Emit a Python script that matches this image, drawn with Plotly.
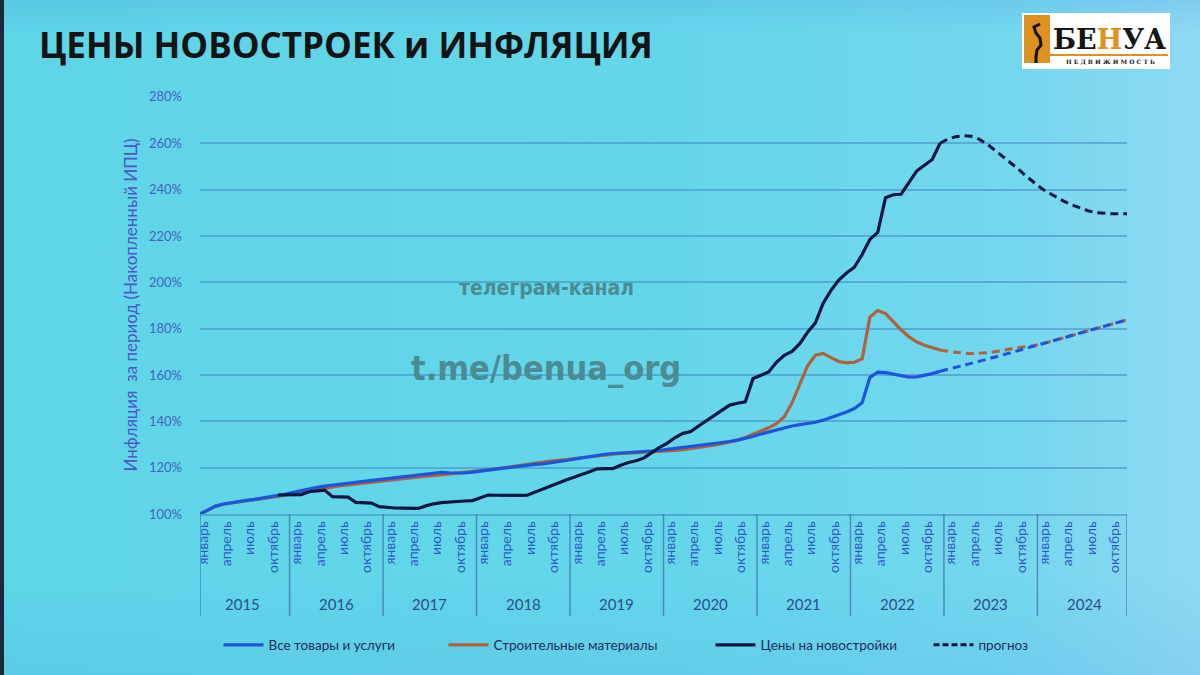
import base64
import plotly.graph_objects as go

# ---------------- data ----------------
years = [2015, 2016, 2017, 2018, 2019, 2020, 2021, 2022, 2023, 2024]
month_labels = ["январь", "апрель", "июль", "октябрь"]
month_offsets = [0, 3, 6, 9]

# Все товары и услуги (monthly, Jan 2015 .. Dec 2022)
cpi = [100, 101.8, 103.4, 104.3, 104.9, 105.4, 105.9, 106.3, 106.8, 107.3, 107.9, 108.6,
       109.4, 110.2, 110.9, 111.5, 112.0, 112.5, 112.9, 113.3, 113.7, 114.1, 114.5, 115.0,
       115.4, 115.8, 116.1, 116.4, 116.8, 117.3, 117.8, 118.0, 117.8, 117.6, 117.7, 118.1,
       118.5, 118.9, 119.3, 119.8, 120.3, 120.8, 121.2, 121.4, 121.6, 122.0, 122.5, 123.1,
       123.7, 124.3, 124.9, 125.4, 125.8, 126.1, 126.3, 126.4, 126.5, 126.7, 127.0, 127.4,
       127.9, 128.3, 128.7, 129.1, 129.5, 130.0, 130.4, 130.8, 131.3, 131.9, 132.6, 133.5,
       134.5, 135.4, 136.3, 137.2, 138.0, 138.6, 139.1, 139.6, 140.5, 141.6, 142.8, 144.0,
       145.5, 148.0, 159.0, 161.2, 161.0, 160.3, 159.6, 159.1, 159.2, 159.8, 160.6, 161.6]

# Строительные материалы
materials = [100, 101.8, 103.3, 104.2, 104.8, 105.3, 105.8, 106.2, 106.6, 107.1, 107.6, 108.2,
             108.8, 109.4, 110.0, 110.6, 111.2, 111.7, 112.2, 112.6, 113.0, 113.4, 113.8, 114.2,
             114.6, 115.0, 115.3, 115.6, 116.0, 116.3, 116.6, 116.9, 117.2, 117.5, 117.9, 118.3,
             118.7, 119.1, 119.6, 120.1, 120.6, 121.1, 121.6, 122.0, 122.4, 122.8, 123.2, 123.6,
             124.0, 124.4, 124.8, 125.2, 125.5, 125.8, 126.1, 126.3, 126.5, 126.6, 126.7, 126.8,
             127.2, 127.5, 127.8, 128.2, 128.6, 129.1, 129.7, 130.3, 131.0, 131.9, 133.0, 134.4,
             135.8, 137.2, 139.0, 142.0, 148.0, 156.0, 164.0, 168.5, 169.3, 167.5, 165.8, 165.2,
             165.5, 167.0, 185.0, 187.8, 186.5, 183.0, 179.5, 176.5, 174.3, 172.8, 171.7, 170.8]

# Цены на новостройки (from Nov 2015 .. Dec 2022)
new_start = 10
new_builds = [108.2, 108.2,
              108.3, 108.4, 109.6, 110.1, 110.3, 107.5, 107.4, 107.3, 105.0, 104.8, 104.7, 103.2,
              102.8, 102.6, 102.5, 102.4, 102.4, 103.5, 104.4, 104.9, 105.3, 105.4, 105.6, 105.8,
              107.0, 108.2, 108.1, 108.0, 107.9, 108.0, 108.1, 109.5, 110.8, 112.2, 113.4, 114.7,
              116.0, 117.0, 118.2, 119.5, 119.6, 119.6, 121.0, 122.2, 123.0, 124.2, 126.5, 128.8,
              130.6, 133.0, 134.8, 135.6, 138.0, 140.2, 142.5, 144.8, 147.0, 147.8, 148.4, 158.5,
              160.0, 161.3, 165.5, 168.5, 170.2, 173.5, 178.5, 182.5, 191.0, 196.5, 201.0, 204.0,
              206.5, 212.0, 218.5, 221.5, 236.5, 237.8, 238.0, 243.0, 248.0, 250.5, 253.0, 260.0]

# прогноз (forecast, from Dec 2022 .. Dec 2024)
fc_start = 95
fc_new_builds = [260.0, 261.8, 262.8, 263.3, 263.0, 261.8, 259.8, 257.2, 254.6, 251.8, 249.0, 246.0,
                 243.2, 240.6, 238.5, 236.5, 234.8, 233.3, 232.0, 230.9, 230.0, 229.7, 229.6, 229.6, 229.6]
fc_cpi_x = [95, 99, 103, 107, 111, 115, 119]
fc_cpi = [161.6, 165.0, 168.6, 172.4, 176.2, 180.0, 183.8]
fc_mat_x = [95, 97, 99, 101, 103, 105, 107, 111, 115, 119]
fc_mat = [170.8, 169.8, 169.3, 169.6, 170.6, 171.8, 172.6, 176.2, 180.0, 183.8]

y_ticks = [100, 120, 140, 160, 180, 200, 220, 240, 260, 280]

# ---------------- styling ----------------
BLUE = "#1d55d8"
BROWN = "#b0603d"
NAVY = "#0d1640"
PL, PR, PT, PB = 200, 1127, 96, 514
W, H = 1200, 675


def xp(px):
    return (px - PL) / (PR - PL)


def yp(py):
    return (PB - py) / (PB - PT)


fig = go.Figure()

fig.add_trace(go.Scatter(x=list(range(len(materials))), y=materials, mode="lines",
                         name="Строительные материалы", line=dict(color=BROWN, width=3.2),
                         legendrank=2, legendwidth=212))
fig.add_trace(go.Scatter(x=list(range(len(cpi))), y=cpi, mode="lines",
                         name="Все товары и услуги", line=dict(color=BLUE, width=3.2),
                         legendrank=1, legendwidth=170))
fig.add_trace(go.Scatter(x=list(range(new_start, new_start + len(new_builds))), y=new_builds,
                         mode="lines", name="Цены на новостройки",
                         line=dict(color=NAVY, width=3.2), legendrank=3, legendwidth=163))
fig.add_trace(go.Scatter(x=fc_mat_x, y=fc_mat, mode="lines", showlegend=False,
                         line=dict(color=BROWN, width=3, dash="8px,5px", shape="spline")))
fig.add_trace(go.Scatter(x=fc_cpi_x, y=fc_cpi, mode="lines", showlegend=False,
                         line=dict(color=BLUE, width=3, dash="8px,5px", shape="spline")))
fig.add_trace(go.Scatter(x=list(range(fc_start, fc_start + len(fc_new_builds))), y=fc_new_builds,
                         mode="lines", showlegend=False,
                         line=dict(color=NAVY, width=3, dash="8px,5px")))
fig.add_trace(go.Scatter(x=[None], y=[None], mode="lines", name="прогноз",
                         line=dict(color=NAVY, width=3, dash="6px,3px"), legendrank=4))

# x ticks
tickvals, ticktext = [], []
for i, _ in enumerate(years):
    for off, lab in zip(month_offsets, month_labels):
        tickvals.append(12 * i + off + 0.4)
        ticktext.append(lab)

GRID = "rgba(60,130,190,0.5)"
fig.update_xaxes(range=[0, 119], tickmode="array", tickvals=tickvals, ticktext=ticktext,
                 tickangle=-90, tickfont=dict(family="Lato", size=14, color="#2f5bc4"),
                 showgrid=False, zeroline=False, ticks="", showline=True, linecolor=GRID,
                 linewidth=1.5)
fig.update_yaxes(range=[100, 280.4], tickmode="array", tickvals=y_ticks,
                 ticktext=[f"{v}%" for v in y_ticks],
                 tickfont=dict(family="Lato", size=13, color="#4561c2"),
                 showgrid=True, gridcolor=GRID, gridwidth=1.5, zeroline=False, ticks="",
                 ticklabelstandoff=17,
                 title=dict(text="Инфляция  за период (Накопленный ИПЦ)",
                            font=dict(family="Lato", size=17, color="#4f55c8"), standoff=7))

shapes = []
annotations = []

# year separators + labels
sep_bottom = yp(616)
for i, yr in enumerate(years):
    x0 = max(0, 12 * i - 0.5)
    shapes.append(dict(type="line", xref="x", yref="paper", x0=x0, x1=x0, y0=0, y1=sep_bottom,
                       line=dict(color="rgba(60,110,170,0.7)", width=1.5)))
    annotations.append(dict(x=12 * i + 5.5, y=yp(604), xref="x", yref="paper", text=str(yr),
                            xanchor="center", yanchor="middle",
                            showarrow=False, font=dict(family="Lato", size=15, color="#2c4d8e")))
shapes.append(dict(type="line", xref="x", yref="paper", x0=119, x1=119, y0=0, y1=sep_bottom,
                   line=dict(color="rgba(60,110,170,0.7)", width=1.5)))

# title
annotations.append(dict(x=xp(37), y=yp(44), xref="paper", yref="paper", xanchor="left",
                        yanchor="middle", showarrow=False, text="ЦЕНЫ НОВОСТРОЕК и ИНФЛЯЦИЯ",
                        font=dict(family="Open Sans", size=35, color="#141414", weight=700)))

# watermark
annotations.append(dict(x=xp(546), y=yp(288), xref="paper", yref="paper", showarrow=False,
                        xanchor="center", yanchor="middle", text="телеграм-канал",
                        font=dict(family="DejaVu Sans Condensed, Roboto", size=21,
                                  color="#4d8b93", weight=700)))
annotations.append(dict(x=xp(546), y=yp(368), xref="paper", yref="paper", showarrow=False,
                        xanchor="center", yanchor="middle", text="t.me/benua_org",
                        font=dict(family="DejaVu Sans Condensed, Roboto", size=34,
                                  color="#4d8b93", weight=700)))

# logo
shapes.append(dict(type="rect", xref="paper", yref="paper", x0=xp(1022), x1=xp(1170),
                   y0=yp(69), y1=yp(13), fillcolor="white", line=dict(width=0), layer="above"))
shapes.append(dict(type="rect", xref="paper", yref="paper", x0=xp(1024), x1=xp(1050),
                   y0=yp(63), y1=yp(15), fillcolor="#dc9120", line=dict(width=0), layer="above"))
shapes.append(dict(type="line", xref="paper", yref="paper", x0=xp(1050), x1=xp(1168),
                   y0=yp(55), y1=yp(55), line=dict(color="#dc9120", width=2), layer="above"))
bird = [(1040, 24), (1034, 27), (1036, 33), (1040, 38), (1041, 45), (1037, 50), (1036, 57), (1036, 63)]
path = "M " + " L ".join(f"{xp(a):.5f},{yp(b):.5f}" for a, b in bird)
shapes.append(dict(type="path", xref="paper", yref="paper", path=path,
                   line=dict(color="#111111", width=3), layer="above"))
annotations.append(dict(x=xp(1109), y=yp(40), xref="paper", yref="paper", showarrow=False,
                        xanchor="center", yanchor="middle",
                        text="БЕ<span style='color:#dc9120'>Н</span>УА",
                        font=dict(family="DejaVu Serif", size=27, color="#151515", weight=700)))
annotations.append(dict(x=xp(1110), y=yp(62), xref="paper", yref="paper", showarrow=False,
                        xanchor="center", yanchor="middle",
                        text="Н Е Д В И Ж И М О С Т Ь",
                        font=dict(family="DejaVu Serif", size=6, color="#151515", weight=700)))

# background gradient
svg = f"""<svg xmlns='http://www.w3.org/2000/svg' width='{W}' height='{H}'>
<defs>
<linearGradient id='g' x1='0' y1='0' x2='1' y2='0'>
<stop offset='0' stop-color='#5ed5e7'/>
<stop offset='0.55' stop-color='#64d6ea'/>
<stop offset='0.85' stop-color='#74d7ee'/>
<stop offset='1' stop-color='#8fd9f3'/>
</linearGradient>
<linearGradient id='v' x1='0' y1='0' x2='0' y2='1'>
<stop offset='0' stop-color='#3f8fd8' stop-opacity='0.18'/>
<stop offset='0.05' stop-color='#3f8fd8' stop-opacity='0'/>
<stop offset='0.85' stop-color='#3f8fd8' stop-opacity='0'/>
<stop offset='1' stop-color='#3f8fd8' stop-opacity='0.12'/>
</linearGradient>
</defs>
<rect width='{W}' height='{H}' fill='url(#g)'/>
<rect width='{W}' height='{H}' fill='url(#v)'/>
<rect width='4' height='{H}' fill='#1a2a3a'/>
</svg>"""
src = "data:image/svg+xml;base64," + base64.b64encode(svg.encode()).decode()

fig.update_layout(
    width=W, height=H,
    margin=dict(l=PL, r=W - PR, t=PT, b=H - PB),
    paper_bgcolor="#64d5e9",
    plot_bgcolor="rgba(0,0,0,0)",
    shapes=shapes,
    annotations=annotations,
    images=[dict(source=src, xref="paper", yref="paper", x=xp(0), y=yp(0),
                 sizex=W / (PR - PL), sizey=H / (PB - PT), sizing="stretch",
                 xanchor="left", yanchor="top", layer="below")],
    legend=dict(orientation="h", x=xp(626), y=yp(645), xanchor="center", yanchor="middle",
                font=dict(family="Lato", size=13.5, color="#1f2d5c"),
                bgcolor="rgba(0,0,0,0)", itemwidth=40, tracegroupgap=0),
    showlegend=True,
)

fig.write_html("out.html")
